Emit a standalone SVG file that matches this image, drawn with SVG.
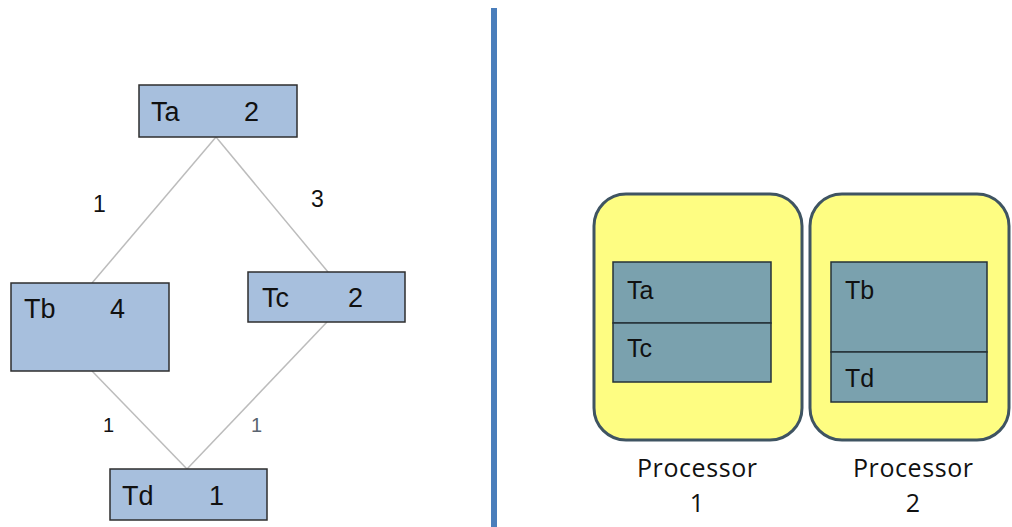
<svg xmlns="http://www.w3.org/2000/svg" width="1012" height="527" viewBox="0 0 1012 527">
  <style>
    text { font-family: "Liberation Sans", Arial, sans-serif; fill: #111111; }
    .task { fill: #a7bfdd; stroke: #2e2e2e; stroke-width: 1.5; }
    .lbl { font-size: 27px; }
    .slotlbl { font-size: 25px; }
    .w { font-size: 23px; }
    .ws { font-size: 20px; }
    .edge { stroke: #bcbcbc; stroke-width: 1.5; fill: none; }
    .proc { fill: #fefd82; stroke: #3f5462; stroke-width: 3; }
    .slot { fill: #7aa1ae; stroke: #263238; stroke-width: 1.5; }
    .cap { font-family: "Open Sans", "Liberation Sans", sans-serif; font-size: 25px; text-anchor: middle; }
  </style>

  <rect width="1012" height="527" fill="#ffffff"/>

  <!-- dependency edges -->
  <g id="connectors">
    <line class="edge" x1="216" y1="137" x2="92" y2="283"/>
    <line class="edge" x1="216" y1="137" x2="328" y2="272"/>
    <line class="edge" x1="92" y1="371" x2="187" y2="469"/>
    <line class="edge" x1="327" y1="322" x2="187" y2="469"/>
    <text class="w" x="93" y="212">1</text>
    <text class="w" x="311" y="207">3</text>
    <text class="ws" x="103" y="432">1</text>
    <text class="ws" x="251" y="432" style="fill:#5a6470">1</text>
  </g>

  <!-- task graph -->
  <g id="Ta">
    <rect class="task" x="139" y="85" width="158" height="52"/>
    <text class="lbl" x="151" y="121">Ta</text>
    <text class="lbl" x="244" y="121">2</text>
  </g>
  <g id="Tb">
    <rect class="task" x="11" y="283" width="158" height="88"/>
    <text class="lbl" x="24" y="318">Tb</text>
    <text class="lbl" x="110" y="318">4</text>
  </g>
  <g id="Tc">
    <rect class="task" x="248" y="272" width="157" height="50"/>
    <text class="lbl" x="262" y="307">Tc</text>
    <text class="lbl" x="348" y="307">2</text>
  </g>
  <g id="Td">
    <rect class="task" x="110" y="469" width="157" height="51"/>
    <text class="lbl" x="122" y="505">Td</text>
    <text class="lbl" x="209" y="505">1</text>
  </g>

  <!-- separator -->
  <rect x="491" y="8" width="6" height="519" fill="#4a7ebb"/>

  <!-- processor schedules -->
  <g id="processor1">
    <rect class="proc" x="594" y="194" width="208" height="246" rx="32"/>
    <rect class="slot" x="613" y="262" width="158" height="61"/>
    <rect class="slot" x="613" y="323" width="158" height="59"/>
    <text class="slotlbl" x="627" y="299">Ta</text>
    <text class="slotlbl" x="627" y="357">Tc</text>
    <text class="cap" x="697" y="477" textLength="120">Processor</text>
    <text class="cap" x="697" y="512">1</text>
  </g>
  <g id="processor2">
    <rect class="proc" x="810" y="194" width="199" height="246" rx="32"/>
    <rect class="slot" x="831" y="262" width="156" height="90"/>
    <rect class="slot" x="831" y="352" width="156" height="50"/>
    <text class="slotlbl" x="845" y="299">Tb</text>
    <text class="slotlbl" x="845" y="387">Td</text>
    <text class="cap" x="913" y="477" textLength="120">Processor</text>
    <text class="cap" x="913" y="512">2</text>
  </g>
</svg>
